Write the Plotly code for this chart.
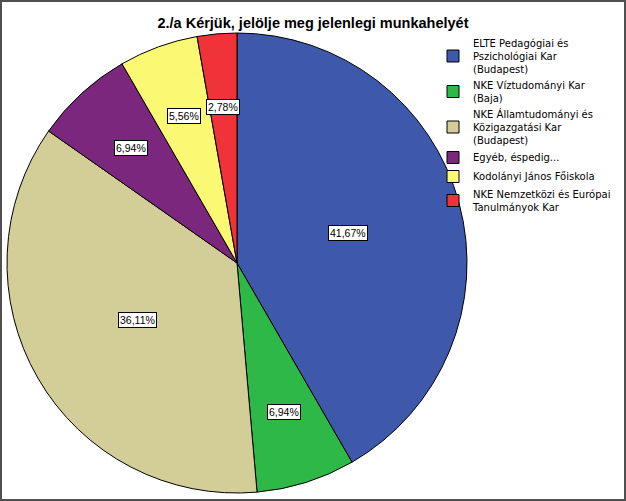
import math
import plotly.graph_objects as go

# Data (72 answers in total)
labels = [
    'ELTE Pedagógiai és<br>Pszichológiai Kar<br>(Budapest)',
    'NKE Víztudományi Kar<br>(Baja)',
    'NKE Államtudományi és<br>Közigazgatási Kar<br>(Budapest)',
    'Egyéb, éspedig...',
    'Kodolányi János Főiskola',
    'NKE Nemzetközi és Európai<br>Tanulmányok Kar',
]
counts = [30, 5, 26, 5, 4, 2]
colors = ['#3E58AC', '#2EB848', '#D3CE97', '#7B277D', '#FBF873', '#EF3338']

W, H = 626, 501
FONT = 'Liberation Sans, Arial, sans-serif'
LEG_FONT = 'DejaVu Sans, sans-serif'

# pie circle in pixels
cx, cy, R = 237, 263, 230
dom_x = [(cx - R) / W, (cx + R) / W]
dom_y = [1 - (cy + R) / H, 1 - (cy - R) / H]

fig = go.Figure(go.Pie(
    labels=labels,
    values=counts,
    sort=False,
    direction='clockwise',
    rotation=0,
    marker=dict(colors=colors, line=dict(color='#000000', width=1)),
    textinfo='none',
    hoverinfo='label+percent',
    domain=dict(x=dom_x, y=dom_y),
))

# percentage labels in white boxes, placed on each slice's middle angle
total = sum(counts)
start = 0
annotations = []
for c in counts:
    share = c / total
    mid = (start + share / 2) * 2 * math.pi
    start += share
    rf = 0.5 if share > 0.2 else 0.68
    px = cx + rf * R * math.sin(mid)
    py = cy - rf * R * math.cos(mid)
    annotations.append(dict(
        x=px / W, y=1 - py / H, xref='paper', yref='paper',
        xanchor='center', yanchor='middle',
        text=f'{share * 100:.2f}%'.replace('.', ','),
        showarrow=False,
        font=dict(family=FONT, size=10.5, color='#000000'),
        bgcolor='#FFFFFF', bordercolor='#000000', borderwidth=1, borderpad=1,
    ))

fig.update_layout(
    width=W, height=H,
    margin=dict(l=0, r=0, t=0, b=0),
    paper_bgcolor='#FFFFFF',
    title=dict(
        text='<b>2./a Kérjük, jelölje meg jelenlegi munkahelyét</b>',
        x=0.5, xanchor='center', y=1 - 23 / H, yanchor='middle',
        font=dict(family=FONT, size=14.5, color='#000000'),
    ),
    legend=dict(
        x=433 / W, xanchor='left', y=1 - 30 / H, yanchor='top',
        font=dict(family=LEG_FONT, size=10, color='#000000'),
        tracegroupgap=0, itemwidth=30,
        bgcolor='rgba(0,0,0,0)',
    ),
    annotations=annotations,
    shapes=[dict(
        type='rect', xref='paper', yref='paper', x0=0, x1=1, y0=0, y1=1,
        line=dict(color='#505050', width=4),
    )],
)

fig.write_html('out.html', config={'displayModeBar': False},
               post_script="document.body.style.margin='0';")
